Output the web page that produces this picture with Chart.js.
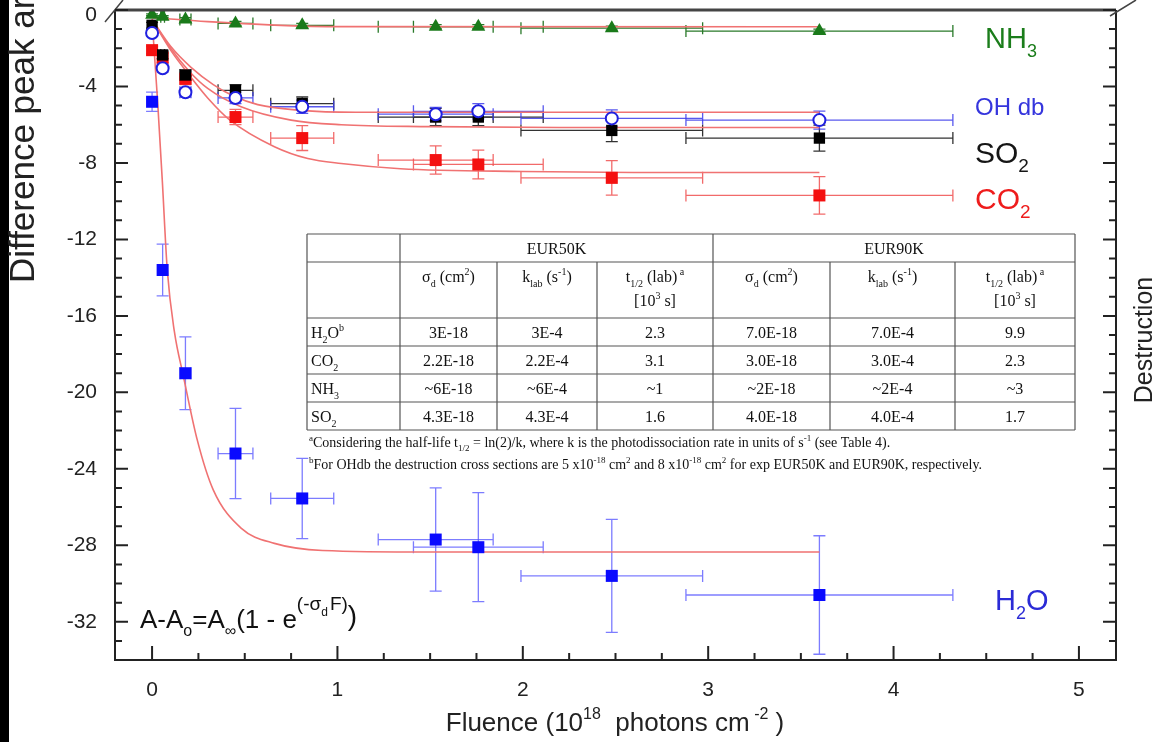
<!DOCTYPE html>
<html>
<head>
<meta charset="utf-8">
<script src="https://cdn.jsdelivr.net/npm/chart.js@4.4.0/dist/chart.umd.min.js"></script>
<style>
  html, body { margin: 0; padding: 0; background: #fff; overflow: hidden; }
  canvas { display: block; }
</style>
</head>
<body>
<canvas id="chart" width="1163" height="742"></canvas>
<script>
// Fluence (10^18 photons cm^-2) and its uncertainty
const fluence    = [0, 0.057, 0.18, 0.45, 0.81, 1.53, 1.76, 2.48, 3.6];
const fluenceErr = [0, 0.01, 0.03, 0.094, 0.17, 0.31, 0.35, 0.49, 0.72];

// measured difference peak areas
const h2o     = [-4.8, -13.6, -19.0, -23.2, -25.55, -27.7, -28.1, -29.6, -30.6];
const h2oErr  = [0.5, 1.35, 1.9, 2.36, 2.1, 2.7, 2.85, 2.96, 3.1];
const co2     = [-2.1, -2.5, -3.6, -5.6, -6.7, -7.85, -8.08, -8.78, -9.7];
const co2Err  = [0.2, 0.25, 0.3, 0.4, 0.65, 0.74, 0.75, 0.9, 0.98];
const so2     = [-0.8, -2.35, -3.4, -4.2, -4.9, -5.6, -5.6, -6.3, -6.7];
const so2Err  = [0.15, 0.2, 0.25, 0.3, 0.35, 0.45, 0.45, 0.58, 0.68];
const ohdb    = [-1.2, -3.05, -4.3, -4.6, -5.06, -5.45, -5.3, -5.67, -5.76];
const ohdbErr = [0.15, 0.2, 0.25, 0.3, 0.35, 0.35, 0.4, 0.45, 0.47];
const nh3     = [-0.25, -0.35, -0.5, -0.7, -0.8, -0.87, -0.87, -0.95, -1.1];
const nh3Err  = [0.05, 0.05, 0.1, 0.1, 0.1, 0.1, 0.1, 0.1, 0.1];

// fitted curves
const fitH2OX = [0, 0.03, 0.055, 0.082, 0.12, 0.17, 0.244, 0.33, 0.48, 0.66, 0.92, 1.5, 3.6];
const fitH2OY = [-0.5, -4.8, -8.9, -13.6, -16.8, -19.2, -22.5, -25.1, -27.1, -27.9, -28.27, -28.35, -28.35];
const fitCO2X = [0, 0.1, 0.2, 0.3, 0.42, 0.66, 0.84, 1.02, 1.34, 2.0, 2.6, 3.6];
const fitCO2Y = [-0.5, -2.1, -3.4, -4.6, -5.76, -7.15, -7.77, -8.03, -8.3, -8.45, -8.5, -8.5];
const fitSO2X = [0, 0.1, 0.2, 0.3, 0.48, 0.75, 1.02, 1.5, 2.2, 3.6];
const fitSO2Y = [-0.5, -2.0, -3.2, -4.1, -5.06, -5.76, -6.0, -6.1, -6.15, -6.15];
const fitOHX  = [0, 0.1, 0.21, 0.33, 0.44, 0.57, 0.8, 1.1, 3.6];
const fitOHY  = [-0.5, -1.9, -3.0, -3.9, -4.5, -4.95, -5.25, -5.35, -5.35];
const fitNH3X = [0, 0.3, 0.66, 1.02, 3.6];
const fitNH3Y = [-0.4, -0.61, -0.79, -0.87, -0.88];

// axis ticks
const xTickLabels = [0, 1, 2, 3, 4, 5];
const yTickLabels = [0, -4, -8, -12, -16, -20, -24, -28, -32];

// inset table
const tableRows = [
  { name: [['H', 0], ['2', 1], ['O', 0], ['b', -1]], cells: ['3E-18', '3E-4', '2.3', '7.0E-18', '7.0E-4', '9.9'] },
  { name: [['CO', 0], ['2', 1]], cells: ['2.2E-18', '2.2E-4', '3.1', '3.0E-18', '3.0E-4', '2.3'] },
  { name: [['NH', 0], ['3', 1]], cells: ['~6E-18', '~6E-4', '~1', '~2E-18', '~2E-4', '~3'] },
  { name: [['SO', 0], ['2', 1]], cells: ['4.3E-18', '4.3E-4', '1.6', '4.0E-18', '4.0E-4', '1.7'] }
];

const SANS = '"Liberation Sans", Arial, sans-serif';
const SERIF = '"Liberation Serif", "Times New Roman", serif';
const FIT_COLOR = '#f07272';

const toXY = (xs, ys) => xs.map((v, i) => ({ x: v, y: ys[i] }));

const series = [
  { values: h2o, err: h2oErr, color: 'rgba(80,80,255,0.75)' },
  { values: co2, err: co2Err, color: 'rgba(240,80,80,0.85)' },
  { values: so2, err: so2Err, color: '#333' },
  { values: ohdb, err: ohdbErr, color: 'rgba(60,60,235,0.85)' },
  { values: nh3, err: nh3Err, color: '#2a7a2a' }
];

// text with sub/superscripts: parts = [text, level] (level 1 = sub, -1 = sup)
function rich(ctx, x, y, parts, size, family, color, align) {
  const small = Math.round(size * 0.62);
  const widthOf = p => { ctx.font = (p[1] ? small : size) + 'px ' + family; return ctx.measureText(p[0]).width; };
  let total = 0;
  parts.forEach(p => total += widthOf(p));
  let cx = align === 'center' ? x - total / 2 : (align === 'right' ? x - total : x);
  ctx.fillStyle = color;
  ctx.textAlign = 'left';
  ctx.textBaseline = 'alphabetic';
  parts.forEach(p => {
    const w = widthOf(p);
    const dy = p[1] === 1 ? size * 0.3 : (p[1] === -1 ? -size * 0.45 : 0);
    ctx.fillText(p[0], cx, y + dy);
    cx += w;
  });
  return cx;
}

const errorBars = {
  id: 'errorBars',
  beforeDatasetsDraw(chart) {
    const { ctx, scales: { x, y } } = chart;
    ctx.save();
    ctx.lineWidth = 1.3;
    series.forEach(s => {
      ctx.strokeStyle = s.color;
      fluence.forEach((f, i) => {
        const px = x.getPixelForValue(f), py = y.getPixelForValue(s.values[i]);
        const y1 = y.getPixelForValue(s.values[i] + s.err[i]);
        const y2 = y.getPixelForValue(s.values[i] - s.err[i]);
        ctx.beginPath();
        ctx.moveTo(px, y1); ctx.lineTo(px, y2);
        ctx.moveTo(px - 6, y1); ctx.lineTo(px + 6, y1);
        ctx.moveTo(px - 6, y2); ctx.lineTo(px + 6, y2);
        if (fluenceErr[i] > 0) {
          const x1 = x.getPixelForValue(f - fluenceErr[i]);
          const x2 = x.getPixelForValue(f + fluenceErr[i]);
          ctx.moveTo(x1, py); ctx.lineTo(x2, py);
          ctx.moveTo(x1, py - 6); ctx.lineTo(x1, py + 6);
          ctx.moveTo(x2, py - 6); ctx.lineTo(x2, py + 6);
        }
        ctx.stroke();
      });
    });
    ctx.restore();
  }
};

const decor = {
  id: 'decor',
  beforeDraw(chart) {
    const ctx = chart.ctx;
    ctx.save();
    ctx.fillStyle = '#fff';
    ctx.fillRect(0, 0, chart.width, chart.height);
    ctx.fillStyle = '#000';
    ctx.fillRect(0, 0, 9, chart.height);
    ctx.restore();
  },
  afterDraw(chart) {
    const { ctx, chartArea: a, scales: { x, y } } = chart;
    ctx.save();

    // frame
    ctx.strokeStyle = '#222';
    ctx.lineWidth = 2;
    ctx.beginPath();
    ctx.moveTo(a.left, a.top); ctx.lineTo(a.left, a.bottom);
    ctx.lineTo(a.right, a.bottom); ctx.lineTo(a.right, a.top);
    ctx.stroke();
    ctx.strokeStyle = '#444';
    ctx.lineWidth = 3;
    ctx.beginPath();
    ctx.moveTo(a.left, a.top); ctx.lineTo(a.right, a.top);
    ctx.stroke();
    ctx.lineWidth = 1.5;
    ctx.beginPath();
    ctx.moveTo(a.left - 10, a.top + 12); ctx.lineTo(a.left + 8, a.top - 10);
    ctx.moveTo(a.right - 6, a.top + 6); ctx.lineTo(a.right + 20, a.top - 10);
    ctx.stroke();

    // ticks
    ctx.strokeStyle = '#222';
    ctx.lineWidth = 2;
    ctx.beginPath();
    for (let v = 0; v <= 5.001; v += 0.25) {
      const px = x.getPixelForValue(v);
      const len = Math.abs(v - Math.round(v)) < 1e-6 ? 14 : 7;
      ctx.moveTo(px, a.bottom); ctx.lineTo(px, a.bottom - len);
    }
    for (let v = 0; v >= -34; v--) {
      const py = y.getPixelForValue(v);
      const len = v % 4 === 0 ? 13 : 7;
      ctx.moveTo(a.left, py); ctx.lineTo(a.left + len, py);
      ctx.moveTo(a.right, py); ctx.lineTo(a.right - len, py);
    }
    ctx.stroke();

    // tick labels
    ctx.fillStyle = '#222';
    ctx.font = '21px ' + SANS;
    ctx.textAlign = 'center';
    ctx.textBaseline = 'middle';
    xTickLabels.forEach(v => ctx.fillText(String(v), x.getPixelForValue(v), a.bottom + 30));
    ctx.textAlign = 'right';
    yTickLabels.forEach(v => {
      const py = y.getPixelForValue(v) + (v === 0 ? 5 : 0);
      ctx.fillText(String(v), a.left - 18, py);
    });

    // axis titles
    rich(ctx, 615, 731, [['Fluence (10', 0], ['18', -1], ['  photons cm', 0], [' -2', -1], [' )', 0]], 26, SANS, '#222', 'center');
    ctx.save();
    ctx.translate(34, 283);
    ctx.rotate(-Math.PI / 2);
    ctx.font = '35px ' + SANS;
    ctx.fillStyle = '#222';
    ctx.textAlign = 'left';
    ctx.textBaseline = 'alphabetic';
    ctx.fillText('Difference peak area', 0, 0);
    ctx.restore();
    ctx.save();
    ctx.translate(1152, 340);
    ctx.rotate(-Math.PI / 2);
    ctx.font = '25px ' + SANS;
    ctx.fillStyle = '#222';
    ctx.textAlign = 'center';
    ctx.textBaseline = 'alphabetic';
    ctx.fillText('Destruction', 0, 0);
    ctx.restore();

    // species labels
    rich(ctx, 985, 48, [['NH', 0], ['3', 1]], 29, SANS, '#1b7d1b', 'left');
    rich(ctx, 975, 115, [['OH db', 0]], 24, SANS, '#3535dd', 'left');
    rich(ctx, 975, 163, [['SO', 0], ['2', 1]], 30, SANS, '#151515', 'left');
    rich(ctx, 975, 209, [['CO', 0], ['2', 1]], 30, SANS, '#ee1c1c', 'left');
    rich(ctx, 995, 610, [['H', 0], ['2', 1], ['O', 0]], 29, SANS, '#2b2bd6', 'left');

    // equation
    const eqY = 628;
    let cx = rich(ctx, 140, eqY, [['A-A', 0], ['o', 1], ['=A', 0], ['\u221E', 1], ['(1 - e', 0]], 26, SANS, '#111', 'left');
    ctx.font = '19px ' + SANS;
    ctx.fillStyle = '#111';
    ctx.fillText('(-\u03C3', cx, eqY - 18);
    cx += ctx.measureText('(-\u03C3').width;
    ctx.font = '12px ' + SANS;
    ctx.fillText('d', cx, eqY - 12);
    cx += ctx.measureText('d').width + 2;
    ctx.font = '19px ' + SANS;
    ctx.fillText('F)', cx, eqY - 18);
    cx += ctx.measureText('F)').width;
    ctx.font = '28px ' + SANS;
    ctx.fillText(')', cx, eqY - 3);

    // inset table
    const cols = [307, 400, 497, 597, 713, 830, 955, 1075];
    const rows = [234, 262, 318, 346, 374, 402, 430];
    ctx.fillStyle = '#fff';
    ctx.fillRect(cols[0], rows[0], cols[7] - cols[0], rows[6] - rows[0]);
    ctx.strokeStyle = '#555';
    ctx.lineWidth = 1.2;
    ctx.beginPath();
    rows.forEach(r => { ctx.moveTo(cols[0], r); ctx.lineTo(cols[7], r); });
    cols.forEach((c, i) => {
      const top = (i === 0 || i === 1 || i === 4 || i === 7) ? rows[0] : rows[1];
      ctx.moveTo(c, top); ctx.lineTo(c, rows[6]);
    });
    ctx.stroke();

    const mid = (i) => (cols[i] + cols[i + 1]) / 2;
    rich(ctx, (cols[1] + cols[4]) / 2, 254, [['EUR50K', 0]], 16, SERIF, '#111', 'center');
    rich(ctx, (cols[4] + cols[7]) / 2, 254, [['EUR90K', 0]], 16, SERIF, '#111', 'center');
    [0, 3].forEach(o => {
      rich(ctx, mid(1 + o), 282, [['\u03C3', 0], ['d', 1], [' (cm', 0], ['2', -1], [')', 0]], 16, SERIF, '#111', 'center');
      rich(ctx, mid(2 + o), 282, [['k', 0], ['lab', 1], [' (s', 0], ['-1', -1], [')', 0]], 16, SERIF, '#111', 'center');
      rich(ctx, mid(3 + o), 282, [['t', 0], ['1/2', 1], [' (lab)', 0], [' a', -1]], 16, SERIF, '#111', 'center');
      rich(ctx, mid(3 + o), 306, [['[10', 0], ['3', -1], [' s]', 0]], 16, SERIF, '#111', 'center');
    });
    tableRows.forEach((row, r) => {
      const base = rows[2 + r] + 20;
      rich(ctx, cols[0] + 4, base, row.name, 16, SERIF, '#111', 'left');
      row.cells.forEach((txt, c) => rich(ctx, mid(1 + c), base, [[txt, 0]], 16, SERIF, '#111', 'center'));
    });
    rich(ctx, 309, 447, [['a', -1], ['Considering the half-life t', 0], ['1/2', 1], [' = ln(2)/k, where k is the photodissociation rate in units of s', 0], ['-1', -1], [' (see Table 4).', 0]], 14, SERIF, '#111', 'left');
    rich(ctx, 309, 469, [['b', -1], ['For OHdb the destruction cross sections are 5 x10', 0], ['-18', -1], [' cm', 0], ['2', -1], [' and 8 x10', 0], ['-18', -1], [' cm', 0], ['2', -1], [' for exp EUR50K and EUR90K, respectively.', 0]], 14, SERIF, '#111', 'left');

    ctx.restore();
  }
};

const fitDataset = (xs, ys) => ({
  data: toXY(xs, ys),
  showLine: true,
  borderColor: FIT_COLOR,
  borderWidth: 1.6,
  pointRadius: 0,
  cubicInterpolationMode: 'monotone',
  order: 10
});

new Chart(document.getElementById('chart'), {
  type: 'scatter',
  data: {
    datasets: [
      fitDataset(fitH2OX, fitH2OY),
      fitDataset(fitCO2X, fitCO2Y),
      fitDataset(fitSO2X, fitSO2Y),
      fitDataset(fitOHX, fitOHY),
      fitDataset(fitNH3X, fitNH3Y),
      { label: 'H2O', data: toXY(fluence, h2o), pointStyle: 'rect', pointRadius: 8.5,
        backgroundColor: '#0a0aff', borderColor: '#0a0aff', borderWidth: 0, order: 5 },
      { label: 'CO2', data: toXY(fluence, co2), pointStyle: 'rect', pointRadius: 8.5,
        backgroundColor: '#f41010', borderColor: '#f41010', borderWidth: 0, order: 4 },
      { label: 'SO2', data: toXY(fluence, so2), pointStyle: 'rect', pointRadius: 8,
        backgroundColor: '#000', borderColor: '#000', borderWidth: 0, order: 3 },
      { label: 'OH db', data: toXY(fluence, ohdb), pointStyle: 'circle', pointRadius: 6,
        backgroundColor: '#fff', borderColor: '#2020e0', borderWidth: 2, order: 2 },
      { label: 'NH3', data: toXY(fluence, nh3), pointStyle: 'triangle', pointRadius: 8,
        backgroundColor: '#1a7a1a', borderColor: '#1a7a1a', borderWidth: 0, order: 1 }
    ]
  },
  options: {
    responsive: false,
    animation: false,
    devicePixelRatio: 1,
    layout: { padding: { left: 115, right: 47, top: 10, bottom: 82 } },
    plugins: { legend: { display: false }, tooltip: { enabled: false } },
    scales: {
      x: { type: 'linear', min: -0.2, max: 5.2, display: false },
      y: { type: 'linear', min: -34, max: 0, display: false }
    }
  },
  plugins: [decor, errorBars]
});
</script>
</body>
</html>
